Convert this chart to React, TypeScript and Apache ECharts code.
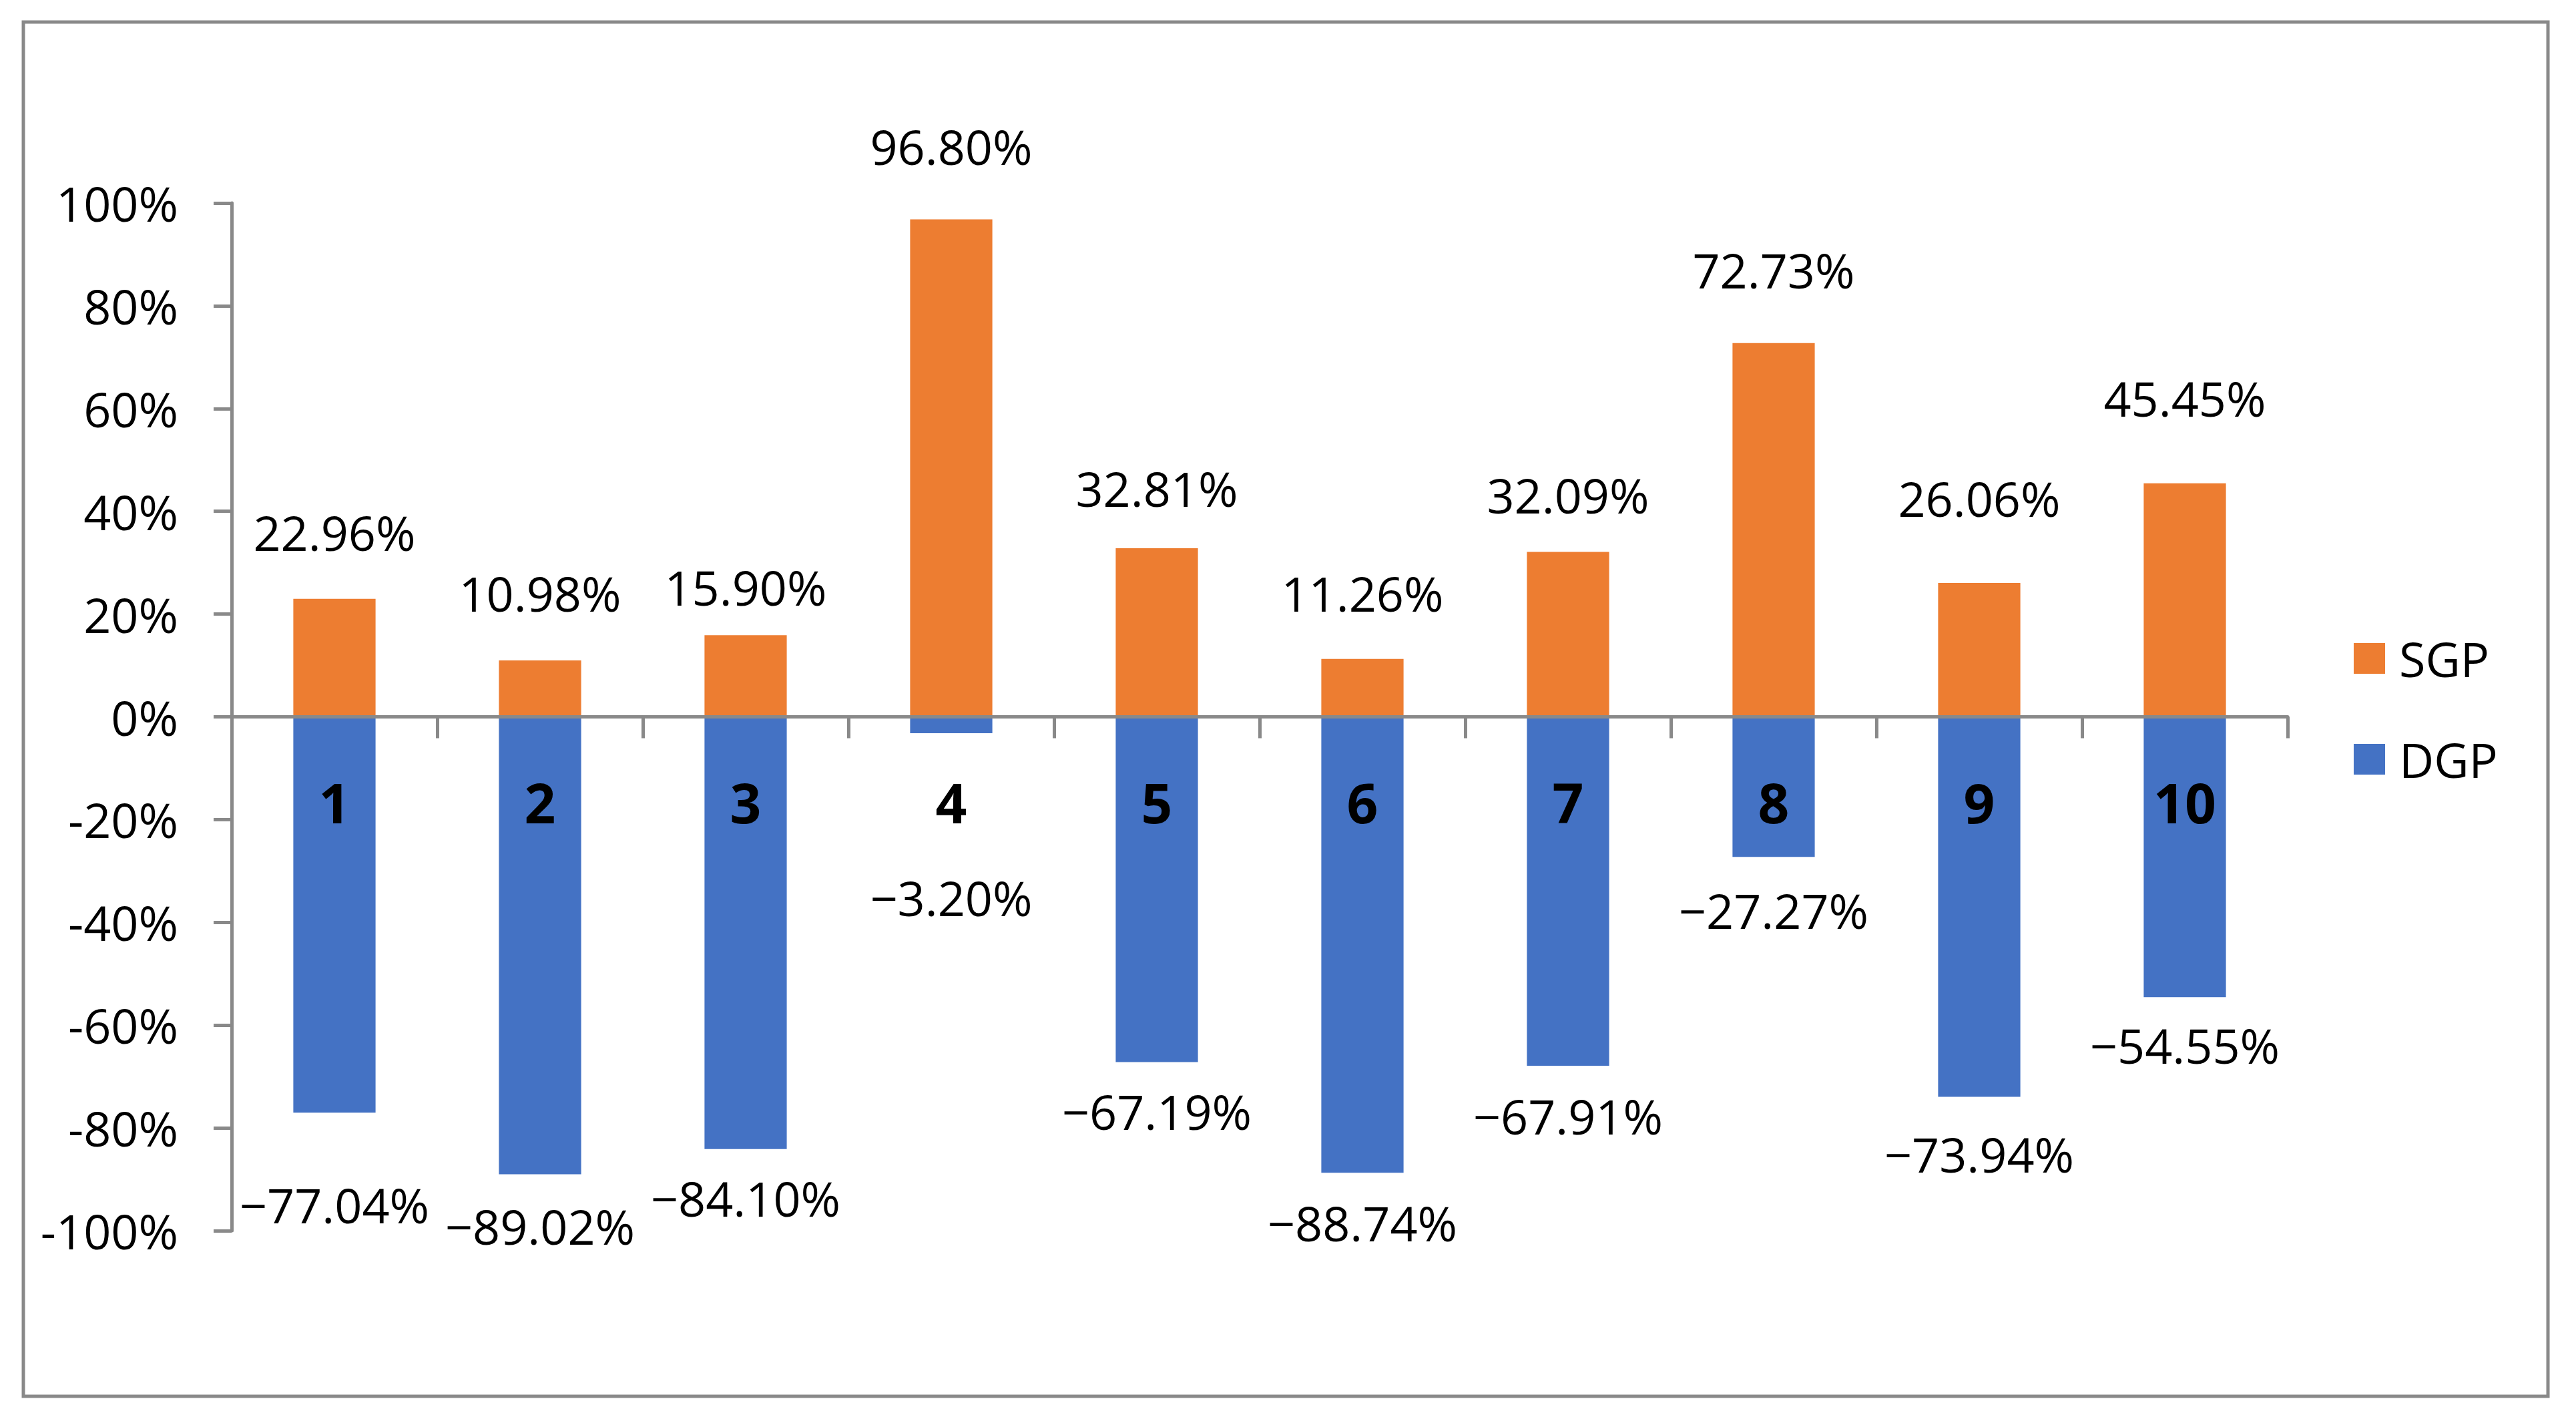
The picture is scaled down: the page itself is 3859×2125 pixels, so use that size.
import React, { useEffect, useRef } from "react";
import * as echarts from "echarts";

const categories = ["1", "2", "3", "4", "5", "6", "7", "8", "9", "10"];
const sgpValues = [0.2296, 0.1098, 0.159, 0.968, 0.3281, 0.1126, 0.3209, 0.7273, 0.2606, 0.4545];
const dgpValues = [-0.7704, -0.8902, -0.841, -0.032, -0.6719, -0.8874, -0.6791, -0.2727, -0.7394, -0.5455];
const yTicks = { min: -1, max: 1, interval: 0.2 };
// label nudges (gap in px from bar end to label centre), as placed in the original
const sgpLabelGap = [100, 101, 72, 110, 90, 99, 86, 110, 127, 128];
const dgpLabelGap = [138, 77, 73, 246, 73, 75, 75, 80, 86, 72];

const FONT = "Open Sans";
const GRAY = "#898989";
const GRID = { left: 347, right: 432, top: 304, bottom: 282 };
const H = 2125;

export default function App() {
  const ref = useRef<HTMLDivElement>(null);
  useEffect(() => {
    document.body.style.margin = "0";
    const chart = echarts.init(ref.current!, null, { renderer: "svg" });
    const labelBase = { fontSize: 72, fontFamily: FONT, color: "#000", lineHeight: 72 };
    const gridH = H - GRID.top - GRID.bottom;
    // distance of the zero line above the grid bottom (axis min -1, max 1)
    const zeroOffset = (gridH * (0 - yTicks.min)) / (yTicks.max - yTicks.min);
    chart.setOption({
      animation: false,
      backgroundColor: "#fff",
      graphic: [
        {
          type: "rect",
          shape: { x: 35, y: 33, width: 3782, height: 2058 },
          style: { fill: "none", stroke: GRAY, lineWidth: 5 },
          silent: true,
        },
      ],
      grid: { ...GRID, containLabel: false },
      legend: {
        data: ["SGP", "DGP"],
        orient: "vertical",
        left: 3521,
        top: 945,
        itemWidth: 47,
        itemHeight: 46,
        itemGap: 79,
        icon: "rect",
        textStyle: { ...labelBase, padding: [0, 0, 0, 16] },
      },
      xAxis: {
        type: "category",
        data: categories,
        z: 10,
        offset: -zeroOffset,
        boundaryGap: true,
        axisLine: { show: true, onZero: false, lineStyle: { color: GRAY, width: 5 } },
        axisTick: {
          show: true,
          inside: false,
          interval: 0,
          alignWithLabel: false,
          length: 32,
          lineStyle: { color: GRAY, width: 5 },
        },
        axisLabel: {
          interval: 0,
          margin: 86,
          fontSize: 82,
          fontWeight: "bold",
          fontFamily: FONT,
          lineHeight: 82,
          color: "#000",
        },
      },
      yAxis: {
        type: "value",
        min: yTicks.min,
        max: yTicks.max,
        interval: yTicks.interval,
        axisLine: { show: true, lineStyle: { color: GRAY, width: 5 } },
        axisTick: { show: true, length: 27, lineStyle: { color: GRAY, width: 5 } },
        splitLine: { show: false },
        axisLabel: {
          ...labelBase,
          margin: 80,
          formatter: (v: number) => Math.round(v * 100) + "%",
        },
      },
      series: [
        {
          name: "SGP",
          type: "bar",
          stack: "total",
          barWidth: "40%",
          itemStyle: { color: "#ED7D31" },
          data: sgpValues.map((v, i) => ({ value: v, label: { distance: sgpLabelGap[i] - 36 } })),
          label: {
            show: true,
            position: "top",
            ...labelBase,
            formatter: (p: any) => (p.value * 100).toFixed(2) + "%",
          },
        },
        {
          name: "DGP",
          type: "bar",
          stack: "total",
          barWidth: "40%",
          itemStyle: { color: "#4472C4" },
          data: dgpValues.map((v, i) => ({ value: v, label: { distance: dgpLabelGap[i] - 36 } })),
          label: {
            show: true,
            position: "bottom",
            ...labelBase,
            formatter: (p: any) => "\u2212" + Math.abs(p.value * 100).toFixed(2) + "%",
          },
        },
      ],
    });
    return () => chart.dispose();
  }, []);
  return <div ref={ref} style={{ width: 3859, height: 2125 }} />;
}
